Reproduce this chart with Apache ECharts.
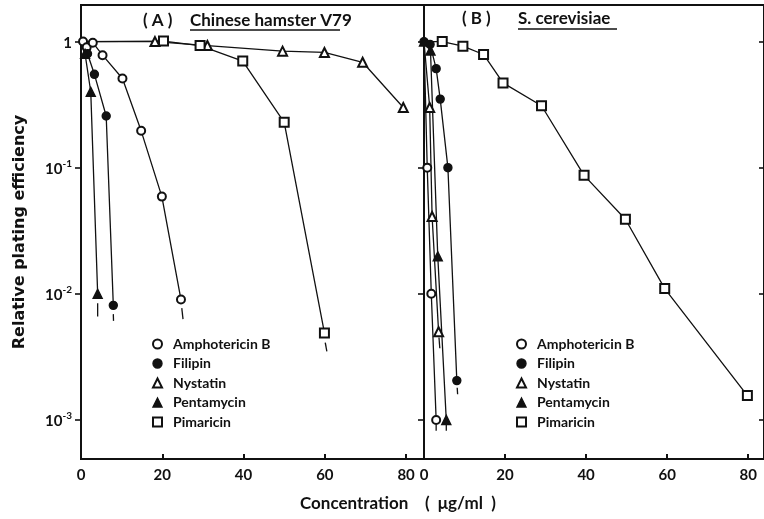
<!DOCTYPE html>
<html>
<head>
<meta charset="utf-8">
<script src="https://cdn.jsdelivr.net/npm/echarts@6/dist/echarts.min.js"></script>
<style>html,body{margin:0;padding:0;background:#fff;}#c{width:764px;height:519px;}</style>
</head>
<body>
<div id="c"></div>
<script>
// ---- Data (x: concentration µg/ml, y: relative plating efficiency) ----
const seriesNames = ['Amphotericin B', 'Filipin', 'Nystatin', 'Pentamycin', 'Pimaricin'];
const xTicks = [0, 20, 40, 60, 80];
const yTicks = [1, 0.1, 0.01, 0.001];

// Panel A: Chinese hamster V79
const ampA = [[0.5,1.0],[1.4,0.9],[2.9,0.98],[5.3,0.78],[10.2,0.51],[14.8,0.196],[19.9,0.059],[24.6,0.009]];
const filA = [[0,1.0],[1.6,0.8],[3.3,0.55],[6.2,0.257],[7.95,0.0081]];
const nysA = [[0,1.0],[18.2,1.0],[31.1,0.93],[49.6,0.84],[59.9,0.82],[69.3,0.685],[79.3,0.30]];
const penA = [[0,1.0],[1.0,0.8],[2.4,0.40],[4.1,0.010]];
const pimA = [[0,1.0],[20.3,1.01],[29.3,0.93],[39.8,0.70],[50.0,0.229],[59.9,0.0049]];
// "below detection" tails, panel A
const ampATail = [[24.8,0.0077],[25.1,0.0063]];
const filATail = [[7.95,0.0069],[8.0,0.0061]];
const penATail = [[4.1,0.0084],[4.1,0.0066]];
const pimATail = [[60.1,0.0041],[60.5,0.0035]];

// Panel B: S. cerevisiae
const ampB = [[0,1.0],[0.8,0.1],[1.8,0.01],[3.0,0.001]];
const filB = [[0,1.0],[1.5,0.95],[3.0,0.61],[4.0,0.35],[5.9,0.10],[8.1,0.00205]];
const nysB = [[0,1.0],[1.4,0.30],[2.0,0.041],[3.6,0.005]];
const penB = [[0,1.0],[1.6,0.85],[3.4,0.0198],[5.5,0.001]];
const pimB = [[0,1.0],[4.5,1.0],[9.6,0.92],[14.7,0.79],[19.5,0.47],[29.0,0.31],[39.5,0.087],[49.7,0.039],[59.4,0.011],[79.8,0.00156]];
// tails, panel B
const ampBTail = [[3.0,0.00092],[3.0,0.00082]];
const filBTail = [[8.2,0.0018],[8.3,0.0016]];
const nysBTail = [[3.7,0.0045],[3.9,0.0037]];
const penBTail = [[5.5,0.00092],[5.5,0.00082]];

// ---- Chart ----
const FONT = 'Lato';
const BLACK = '#111';
const symbols = {'Amphotericin B':'emptyCircle','Filipin':'circle','Nystatin':'emptyTriangle','Pentamycin':'triangle','Pimaricin':'emptyRect'};
const sizes = {'Amphotericin B':8,'Filipin':8,'Nystatin':9,'Pentamycin':9,'Pimaricin':9};

// hideOrigin: the control point at x = 0 sits under the cluster on the axis
function mk(name, data, g, hideOrigin) {
  return {
    name: name, type: 'line',
    data: data.map(p => (hideOrigin && p[0] === 0) ? {value: p, symbol: 'none'} : p),
    xAxisIndex: g, yAxisIndex: g,
    symbol: symbols[name], symbolSize: sizes[name],
    lineStyle: {color: BLACK, width: 1.3},
    itemStyle: {color: BLACK, borderColor: BLACK, borderWidth: 1.4},
    animation: false, silent: true
  };
}
function tail(name, data, g) {
  return {
    name: name + ' tail', type: 'line', data: data,
    xAxisIndex: g, yAxisIndex: g, showSymbol: false, symbol: 'none',
    lineStyle: {color: BLACK, width: 1.3}, animation: false, silent: true
  };
}

function yFmt(v) {
  const l = Math.log10(v);
  const e = Math.round(l);
  if (Math.abs(l - e) > 1e-6) return '';
  if (!yTicks.some(t => Math.abs(Math.log10(t) - e) < 1e-6)) return '';
  if (e === 0) return '{n|1}';
  return '{n|10}{s|' + e + '}';
}
function xFmt(v) {
  return xTicks.indexOf(Math.round(v * 1000) / 1000) >= 0 ? String(v) : '';
}

const xAxisBase = {
  type: 'value', min: 0, interval: 20,
  splitLine: {show: false},
  axisLine: {show: true, lineStyle: {color: BLACK, width: 2}},
  axisTick: {show: true, inside: true, length: 5, lineStyle: {color: BLACK, width: 2}},
  axisLabel: {color: BLACK, fontFamily: FONT, fontWeight: 'bold', fontSize: 15, margin: 9, formatter: xFmt, showMaxLabel: false}
};
const yAxisBase = {
  type: 'log', logBase: 10, min: 0.00049, max: 1.95,
  splitLine: {show: false},
  axisLine: {show: true, lineStyle: {color: BLACK, width: 2}},
  axisTick: {show: true, inside: false, length: 6, lineStyle: {color: BLACK, width: 1.6}},
  minorTick: {show: false}
};

const option = {
  backgroundColor: '#fff',
  animation: false,
  textStyle: {fontFamily: FONT},
  grid: [
    {left: 81, top: 5, width: 343, height: 454, show: true, borderColor: BLACK, borderWidth: 2, backgroundColor: 'transparent'},
    {left: 424, top: 5, width: 342, height: 454, show: true, borderColor: BLACK, borderWidth: 2, backgroundColor: 'transparent'}
  ],
  xAxis: [
    Object.assign({}, xAxisBase, {gridIndex: 0, max: 84.4}),
    Object.assign({}, xAxisBase, {gridIndex: 1, max: 83.9})
  ],
  yAxis: [
    Object.assign({}, yAxisBase, {
      gridIndex: 0,
      name: 'Relative plating efficiency', nameLocation: 'middle', nameRotate: 90, nameGap: 53,
      nameTextStyle: {color: BLACK, fontFamily: 'DejaVu Sans', fontWeight: 'bold', fontSize: 16},
      axisLabel: {
        margin: 9, showMinLabel: false, showMaxLabel: false, formatter: yFmt,
        rich: {
          n: {color: BLACK, fontFamily: FONT, fontWeight: 'bold', fontSize: 15, verticalAlign: 'bottom', lineHeight: 18},
          s: {color: BLACK, fontFamily: FONT, fontWeight: 'bold', fontSize: 10, verticalAlign: 'top', lineHeight: 18}
        }
      }
    }),
    Object.assign({}, yAxisBase, {gridIndex: 1, axisLabel: {show: false}}),
    Object.assign({}, yAxisBase, {gridIndex: 1, axisLine: {show: false}, axisLabel: {show: false},
      axisTick: {show: true, inside: true, length: 5, lineStyle: {color: BLACK, width: 1.6}}})
  ],
  legend: [
    {
      orient: 'vertical', left: 147, top: 332, itemWidth: 9, itemHeight: 9, itemGap: 5.5,
      textStyle: {color: BLACK, fontFamily: FONT, fontWeight: 'bold', fontSize: 14, padding: [0,0,0,6]},
      itemStyle: {borderWidth: 1.4},
      selectedMode: false,
      data: seriesNames.map(n => ({name: n, icon: symbols[n]}))
    },
    {
      orient: 'vertical', left: 511, top: 332, itemWidth: 9, itemHeight: 9, itemGap: 5.5,
      textStyle: {color: BLACK, fontFamily: FONT, fontWeight: 'bold', fontSize: 14, padding: [0,0,0,6]},
      itemStyle: {borderWidth: 1.4},
      selectedMode: false,
      data: seriesNames.map(n => ({name: n, icon: symbols[n]}))
    }
  ],
  graphic: [
    {type: 'text', left: 143, top: 12, style: {text: '( A )', font: 'bold 17px Lato', fill: BLACK}},
    {type: 'text', left: 190, top: 12, style: {text: 'Chinese hamster V79', font: 'bold 17px Lato', fill: BLACK}},
    {type: 'line', shape: {x1: 190, y1: 30, x2: 340, y2: 30}, style: {stroke: BLACK, lineWidth: 1.6}},
    {type: 'text', left: 462, top: 10, style: {text: '( B )', font: 'bold 17px Lato', fill: BLACK}},
    {type: 'text', left: 518, top: 10, style: {text: 'S. cerevisiae', font: 'bold 17px Lato', fill: BLACK}},
    {type: 'line', shape: {x1: 518, y1: 29, x2: 617, y2: 29}, style: {stroke: BLACK, lineWidth: 1.6}},
    {type: 'text', left: 300, top: 495, style: {text: 'Concentration    (  μg/ml  )', font: 'bold 17px Lato', fill: BLACK}}
  ],
  series: [
    mk('Amphotericin B', ampA, 0, false), mk('Filipin', filA, 0, true), mk('Nystatin', nysA, 0, true), mk('Pentamycin', penA, 0, true), mk('Pimaricin', pimA, 0, true),
    tail('Amphotericin B', ampATail, 0), tail('Filipin', filATail, 0), tail('Pentamycin', penATail, 0), tail('Pimaricin', pimATail, 0),
    mk('Amphotericin B', ampB, 1, true), mk('Filipin', filB, 1, false), mk('Nystatin', nysB, 1, true), mk('Pentamycin', penB, 1, false), mk('Pimaricin', pimB, 1, true),
    tail('Amphotericin B', ampBTail, 1), tail('Filipin', filBTail, 1), tail('Nystatin', nysBTail, 1), tail('Pentamycin', penBTail, 1)
  ]
};

const chart = echarts.init(document.getElementById('c'), null, {renderer: 'canvas'});
chart.setOption(option);
</script>
</body>
</html>
